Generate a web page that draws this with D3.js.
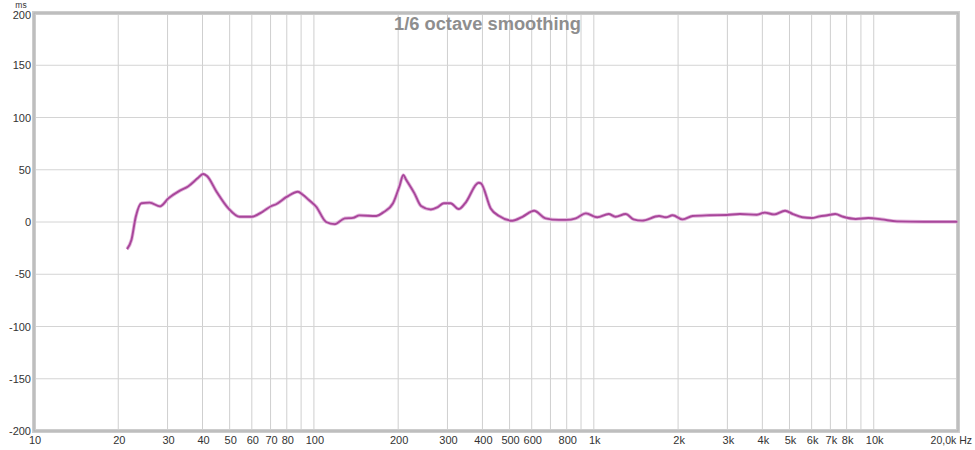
<!DOCTYPE html>
<html><head><meta charset="utf-8">
<script src="https://cdn.jsdelivr.net/npm/d3@7"></script>
<style>body{margin:0;background:#fff;} svg{display:block;}</style>
</head><body>
<svg id="c" width="975" height="450"></svg>
<script>
const freqs = [21.5,22.3,23.1,24.2,25.9,28.2,30.2,33.2,35.5,38.5,40.2,41.5,44.9,49.5,54.3,59.8,65.7,70.5,73.3,79.9,87.7,91.3,96,101.9,110.6,118.7,128.9,138,145.5,167,176.5,191.7,202,208.7,213,228.6,241.4,261.7,276,291.3,307.6,329,347,388,395,428,459,512,556,612,672,750,795,862,937,1029,1130,1195,1300,1387,1487,1710,1808,1912,2077,2255,2592,2979,3328,3825,4077,4405,4822,5143,5557,6005,6405,6834,7289,7775,8624,9568,10680,12100,15100,19900];
const delays = [-26,-17,5,18,18.5,15,22.6,30,34,42,46,44,29,13,5,5,10,15.3,17,24,29,26,21,14.6,0,-2,3.5,4,6.3,5.7,9,18,34,45,41,27.4,15.3,12,14,18,18,12.4,18,37.5,37,13,5.7,1.2,5,10.8,3.5,2,2,3.5,8.3,4.5,7.6,5,7.6,2.5,1.3,5.7,4.5,6.4,2.5,5.7,6.4,6.7,7.6,7,9,7.3,10.8,7.6,4.5,3.8,5.4,6.4,7.6,5,2.9,3.8,2.5,0.6,0.3,0.3];
const yTicks = [200,150,100,50,0,-50,-100,-150,-200];
const gridFreqs = [20,30,40,50,60,70,80,90,100,200,300,400,500,600,700,800,900,1000,2000,3000,4000,5000,6000,7000,8000,9000,10000];
const xLabels = [[10,"10"],[20,"20"],[30,"30"],[40,"40"],[50,"50"],[60,"60"],[70,"70"],[80,"80"],[100,"100"],[200,"200"],[300,"300"],[400,"400"],[500,"500"],[600,"600"],[800,"800"],[1000,"1k"],[2000,"2k"],[3000,"3k"],[4000,"4k"],[5000,"5k"],[6000,"6k"],[7000,"7k"],[8000,"8k"],[10000,"10k"],[20000,"20,0k Hz"]];

const svg = d3.select("#c");
const x = d3.scaleLog().domain([10,20000]).range([34,958]);
const y = d3.scaleLinear().domain([-200,200]).range([431,13]);
const font = "Arial, 'Liberation Sans', sans-serif";

// grid
svg.append("g").selectAll("line").data(gridFreqs).join("line")
  .attr("x1",d=>x(d)).attr("x2",d=>x(d)).attr("y1",y(200)).attr("y2",y(-200))
  .attr("stroke","#cfcfcf").attr("stroke-width",1);
svg.append("g").selectAll("line").data(yTicks).join("line")
  .attr("x1",x(10)).attr("x2",x(20000)).attr("y1",d=>y(d)).attr("y2",d=>y(d))
  .attr("stroke","#d4d4d4").attr("stroke-width",1);

// frame
svg.append("rect").attr("x",x(10)).attr("y",y(200)).attr("width",x(20000)-x(10)).attr("height",y(-200)-y(200))
  .attr("fill","none").attr("stroke","#cdcdcd").attr("stroke-width",4);
svg.append("rect").attr("x",x(10)).attr("y",y(200)).attr("width",x(20000)-x(10)).attr("height",y(-200)-y(200))
  .attr("fill","none").attr("stroke","#b0b0b0").attr("stroke-width",1);

// title
svg.append("text").attr("x",487.5).attr("y",29.5).attr("text-anchor","middle")
  .attr("font-family",font).attr("font-weight","bold").attr("font-size",18.3)
  .attr("fill","#8e8e8e").text("1/6 octave smoothing");

// y labels
svg.append("g").selectAll("text").data(yTicks).join("text")
  .attr("x",31).attr("y",d=>d===200?y(d)+5.5:y(d)+4).attr("text-anchor","end")
  .attr("font-family",font).attr("font-size",11).attr("fill","#333")
  .text(d=>d);
svg.append("text").attr("x",21).attr("y",8).attr("text-anchor","middle")
  .attr("font-family",font).attr("font-size",8.5).attr("fill","#333").text("ms");

// x labels
svg.append("g").selectAll("text").data(xLabels).join("text")
  .attr("x",d=>d[0]===20000?972:x(d[0])+1).attr("y",444)
  .attr("text-anchor",d=>d[0]===20000?"end":"middle")
  .attr("font-family",font).attr("font-size",d=>d[0]===20000?10.5:11).attr("fill","#333")
  .text(d=>d[1]);

// curve
const data = freqs.map((f,i)=>[f,delays[i]]);
const line = d3.line().x(d=>x(d[0])).y(d=>y(d[1])).curve(d3.curveMonotoneX);
svg.append("path").attr("d",line(data)).attr("fill","none")
  .attr("stroke","#e2b4dc").attr("stroke-width",3.6).attr("stroke-linejoin","round");
svg.append("path").attr("d",line(data)).attr("fill","none")
  .attr("stroke","#a8469a").attr("stroke-width",1.9).attr("stroke-linejoin","round");
</script>
</body></html>
